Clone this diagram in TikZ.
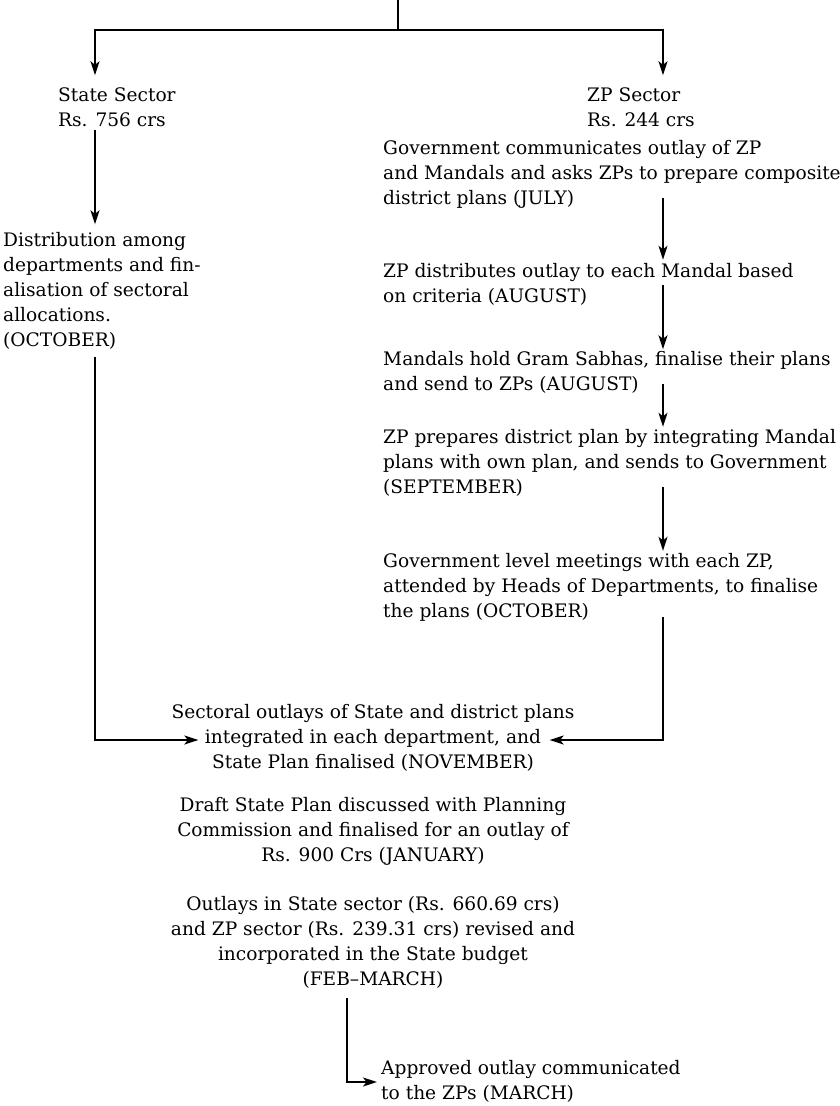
\documentclass[tikz,border=0pt]{standalone}
\usepackage{fontspec}
\setmainfont{DejaVu Serif}
\usetikzlibrary{arrows.meta,calc}
\begin{document}
\begin{tikzpicture}[x=1pt,y=-1pt,
  txt/.style={inner sep=0pt, font=\fontsize{18.6}{25}\selectfont},
  lt/.style={txt, align=left, anchor=west},
  ct/.style={txt, align=center},
  conn/.style={line width=1.6pt},
  arr/.style={conn, -{Stealth[length=14pt,width=9pt,inset=3.5pt]}}]
\useasboundingbox (0,0) rectangle (840,1106);
% named positions
\coordinate (top) at (398,0);
\coordinate (split) at (398,30);
\coordinate (xL) at (95,0);
\coordinate (xR) at (663,0);
\coordinate (xB) at (347,0);
% nodes
\node[lt] (state) at (58,107) {State Sector\\Rs. 756 crs};
\node[lt] (zp) at (587,107) {ZP Sector\\Rs. 244 crs};
\node[lt] (dist) at (3,291) {Distribution among\\departments and fin-\\alisation of sectoral\\allocations.\\(OCTOBER)};
\node[lt] (b1) at (383,174) {Government communicates outlay of ZP\\and Mandals and asks ZPs to prepare composite\\district plans (JULY)};
\node[lt] (b2) at (383,284) {ZP distributes outlay to each Mandal based\\on criteria (AUGUST)};
\node[lt] (b3) at (383,372.5) {Mandals hold Gram Sabhas, finalise their plans\\and send to ZPs (AUGUST)};
\node[lt] (b4) at (383,462.5) {ZP prepares district plan by integrating Mandal\\plans with own plan, and sends to Government\\(SEPTEMBER)};
\node[lt] (b5) at (383,587) {Government level meetings with each ZP,\\attended by Heads of Departments, to finalise\\the plans (OCTOBER)};
\node[ct] (c1) at (373,738) {Sectoral outlays of State and district plans\\integrated in each department, and\\State Plan finalised (NOVEMBER)};
\node[ct] (c2) at (373,831) {Draft State Plan discussed with Planning\\Commission and finalised for an outlay of\\Rs. 900 Crs (JANUARY)};
\node[ct] (c3) at (373,942) {Outlays in State sector (Rs. 660.69 crs)\\and ZP sector (Rs. 239.31 crs) revised and\\incorporated in the State budget\\(FEB–MARCH)};
\node[lt] (fin) at (381,1081) {Approved outlay communicated\\to the ZPs (MARCH)};
% connectors
\draw[conn] (top) -- (split);
\draw[arr] (split) -| ($(state.north -| xL)+(0,-12)$);
\draw[arr] (split) -| ($(zp.north -| xR)+(0,-12)$);
\draw[arr] ($(state.south -| xL)+(0,3)$) -- ($(dist.north -| xL)+(0,-8)$);
\draw[arr] ($(dist.south -| xL)+(0,7)$) |- ($(c1.west)+(27,2)$);
\draw[arr] ($(b1.south -| xR)+(0,-10)$) -- ($(b2.north -| xR)+(0,-3)$);
\draw[arr] ($(b2.south -| xR)+(0,-20)$) -- ($(b3.north -| xR)+(0,-2)$);
\draw[arr] ($(b3.south -| xR)+(0,-10)$) -- ($(b4.north -| xR)+(0,-2)$);
\draw[arr] ($(b4.south -| xR)+(0,-9)$) -- ($(b5.north -| xR)+(0,-2)$);
\draw[arr] ($(b5.south -| xR)+(0,-4)$) |- ($(c1.east)+(-25,2)$);
\draw[arr] ($(c3.south -| xB)+(0,10)$) |- ($(fin.west)+(-4,1)$);
\end{tikzpicture}
\end{document}
